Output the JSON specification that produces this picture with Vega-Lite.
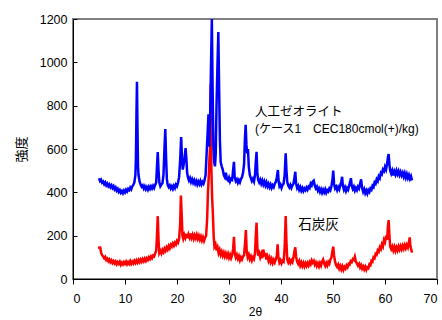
{
  "$schema": "https://vega.github.io/schema/vega-lite/v6.json",
  "autosize": {"type": "none"},
  "width": 364,
  "height": 260,
  "padding": {"left": 73, "top": 19, "right": 5, "bottom": 41},
  "background": "white",
  "config": {
    "view": {"stroke": "#808080", "strokeWidth": 2},
    "axis": {"grid": false, "labelFont": "Liberation Sans", "labelFontSize": 12.5, "labelColor": "#000", "domainColor": "#000", "tickColor": "#000", "titleColor": "#000", "titleFontWeight": "normal"}
  },
  "datasets": {
    "coal": [
      {"theta":5.0,"count":150},{"theta":5.1,"count":140},{"theta":5.2,"count":150},{"theta":5.4,"count":122},{"theta":5.6,"count":110},{"theta":5.8,"count":104},{"theta":6.0,"count":96},{"theta":6.2,"count":102},{"theta":6.4,"count":88},{"theta":6.6,"count":94},{"theta":6.8,"count":82},{"theta":7.0,"count":90},{"theta":7.2,"count":78},{"theta":7.4,"count":86},{"theta":7.6,"count":74},{"theta":7.8,"count":82},{"theta":8.0,"count":72},{"theta":8.2,"count":80},{"theta":8.4,"count":68},{"theta":8.6,"count":78},{"theta":8.8,"count":70},{"theta":9.0,"count":80},{"theta":9.2,"count":66},{"theta":9.4,"count":76},{"theta":9.6,"count":68},{"theta":9.8,"count":78},{"theta":10.0,"count":70},{"theta":10.2,"count":80},{"theta":10.4,"count":68},{"theta":10.6,"count":78},{"theta":10.8,"count":70},{"theta":11.0,"count":82},{"theta":11.2,"count":70},{"theta":11.4,"count":80},{"theta":11.6,"count":72},{"theta":11.8,"count":84},{"theta":12.0,"count":74},{"theta":12.2,"count":86},{"theta":12.4,"count":76},{"theta":12.6,"count":88},{"theta":12.8,"count":78},{"theta":13.0,"count":90},{"theta":13.2,"count":80},{"theta":13.4,"count":92},{"theta":13.6,"count":82},{"theta":13.8,"count":94},{"theta":14.0,"count":84},{"theta":14.2,"count":96},{"theta":14.4,"count":88},{"theta":14.6,"count":100},{"theta":14.8,"count":92},{"theta":15.0,"count":104},{"theta":15.2,"count":96},{"theta":15.4,"count":108},{"theta":15.6,"count":104},{"theta":15.8,"count":118},{"theta":16.0,"count":130},{"theta":16.15,"count":200},{"theta":16.3,"count":290},{"theta":16.45,"count":180},{"theta":16.6,"count":120},{"theta":16.8,"count":130},{"theta":17.0,"count":118},{"theta":17.2,"count":134},{"theta":17.4,"count":124},{"theta":17.6,"count":140},{"theta":17.8,"count":130},{"theta":18.0,"count":146},{"theta":18.2,"count":136},{"theta":18.4,"count":152},{"theta":18.6,"count":142},{"theta":18.8,"count":158},{"theta":19.0,"count":150},{"theta":19.2,"count":164},{"theta":19.4,"count":154},{"theta":19.6,"count":168},{"theta":19.8,"count":160},{"theta":20.0,"count":176},{"theta":20.2,"count":168},{"theta":20.4,"count":184},{"theta":20.6,"count":250},{"theta":20.75,"count":385},{"theta":20.9,"count":300},{"theta":21.05,"count":200},{"theta":21.2,"count":186},{"theta":21.4,"count":204},{"theta":21.6,"count":190},{"theta":21.8,"count":208},{"theta":22.0,"count":188},{"theta":22.2,"count":206},{"theta":22.4,"count":192},{"theta":22.6,"count":210},{"theta":22.8,"count":190},{"theta":23.0,"count":204},{"theta":23.2,"count":186},{"theta":23.4,"count":202},{"theta":23.6,"count":188},{"theta":23.8,"count":204},{"theta":24.0,"count":186},{"theta":24.2,"count":200},{"theta":24.4,"count":182},{"theta":24.6,"count":196},{"theta":24.8,"count":178},{"theta":25.0,"count":192},{"theta":25.2,"count":176},{"theta":25.4,"count":190},{"theta":25.6,"count":200},{"theta":25.8,"count":280},{"theta":25.95,"count":400},{"theta":26.1,"count":470},{"theta":26.25,"count":560},{"theta":26.4,"count":620},{"theta":26.5,"count":900},{"theta":26.6,"count":520},{"theta":26.75,"count":380},{"theta":26.9,"count":300},{"theta":27.05,"count":200},{"theta":27.2,"count":150},{"theta":27.4,"count":160},{"theta":27.6,"count":132},{"theta":27.8,"count":146},{"theta":28.0,"count":120},{"theta":28.2,"count":134},{"theta":28.4,"count":112},{"theta":28.6,"count":126},{"theta":28.8,"count":108},{"theta":29.0,"count":122},{"theta":29.2,"count":104},{"theta":29.4,"count":118},{"theta":29.6,"count":102},{"theta":29.8,"count":116},{"theta":30.0,"count":98},{"theta":30.2,"count":112},{"theta":30.4,"count":96},{"theta":30.6,"count":110},{"theta":30.8,"count":140},{"theta":30.95,"count":195},{"theta":31.1,"count":120},{"theta":31.3,"count":100},{"theta":31.5,"count":112},{"theta":31.7,"count":94},{"theta":31.9,"count":106},{"theta":32.1,"count":86},{"theta":32.3,"count":100},{"theta":32.5,"count":90},{"theta":32.7,"count":104},{"theta":32.9,"count":110},{"theta":33.1,"count":170},{"theta":33.25,"count":226},{"theta":33.4,"count":130},{"theta":33.6,"count":100},{"theta":33.8,"count":112},{"theta":34.0,"count":92},{"theta":34.2,"count":104},{"theta":34.4,"count":86},{"theta":34.6,"count":100},{"theta":34.8,"count":92},{"theta":35.0,"count":120},{"theta":35.15,"count":200},{"theta":35.3,"count":260},{"theta":35.45,"count":150},{"theta":35.6,"count":108},{"theta":35.8,"count":120},{"theta":36.0,"count":100},{"theta":36.2,"count":116},{"theta":36.4,"count":96},{"theta":36.6,"count":136},{"theta":36.8,"count":104},{"theta":37.0,"count":120},{"theta":37.2,"count":90},{"theta":37.4,"count":104},{"theta":37.6,"count":84},{"theta":37.8,"count":98},{"theta":38.0,"count":78},{"theta":38.2,"count":92},{"theta":38.4,"count":74},{"theta":38.6,"count":88},{"theta":38.8,"count":76},{"theta":39.0,"count":90},{"theta":39.2,"count":110},{"theta":39.35,"count":160},{"theta":39.5,"count":100},{"theta":39.7,"count":76},{"theta":39.9,"count":86},{"theta":40.1,"count":72},{"theta":40.3,"count":84},{"theta":40.5,"count":80},{"theta":40.7,"count":140},{"theta":40.9,"count":291},{"theta":41.05,"count":170},{"theta":41.2,"count":90},{"theta":41.4,"count":76},{"theta":41.6,"count":88},{"theta":41.8,"count":74},{"theta":42.0,"count":86},{"theta":42.2,"count":78},{"theta":42.4,"count":100},{"theta":42.6,"count":130},{"theta":42.75,"count":146},{"theta":42.9,"count":104},{"theta":43.1,"count":80},{"theta":43.3,"count":70},{"theta":43.5,"count":82},{"theta":43.7,"count":62},{"theta":43.9,"count":76},{"theta":44.1,"count":60},{"theta":44.3,"count":74},{"theta":44.5,"count":58},{"theta":44.7,"count":72},{"theta":44.9,"count":60},{"theta":45.1,"count":74},{"theta":45.3,"count":62},{"theta":45.5,"count":78},{"theta":45.7,"count":68},{"theta":45.9,"count":86},{"theta":46.1,"count":76},{"theta":46.3,"count":84},{"theta":46.5,"count":66},{"theta":46.7,"count":76},{"theta":46.9,"count":60},{"theta":47.1,"count":72},{"theta":47.3,"count":58},{"theta":47.5,"count":74},{"theta":47.7,"count":62},{"theta":47.9,"count":80},{"theta":48.1,"count":90},{"theta":48.3,"count":72},{"theta":48.5,"count":60},{"theta":48.7,"count":74},{"theta":48.9,"count":62},{"theta":49.1,"count":78},{"theta":49.3,"count":70},{"theta":49.5,"count":90},{"theta":49.7,"count":100},{"theta":49.9,"count":130},{"theta":50.05,"count":149},{"theta":50.2,"count":110},{"theta":50.4,"count":80},{"theta":50.6,"count":64},{"theta":50.8,"count":56},{"theta":51.0,"count":66},{"theta":51.2,"count":48},{"theta":51.4,"count":60},{"theta":51.6,"count":44},{"theta":51.8,"count":58},{"theta":52.0,"count":42},{"theta":52.2,"count":56},{"theta":52.4,"count":48},{"theta":52.6,"count":62},{"theta":52.8,"count":54},{"theta":53.0,"count":70},{"theta":53.2,"count":66},{"theta":53.4,"count":82},{"theta":53.6,"count":78},{"theta":53.8,"count":92},{"theta":54.0,"count":88},{"theta":54.2,"count":103},{"theta":54.4,"count":80},{"theta":54.6,"count":72},{"theta":54.8,"count":62},{"theta":55.0,"count":70},{"theta":55.2,"count":54},{"theta":55.4,"count":64},{"theta":55.6,"count":48},{"theta":55.8,"count":58},{"theta":56.0,"count":44},{"theta":56.2,"count":56},{"theta":56.4,"count":42},{"theta":56.6,"count":54},{"theta":56.8,"count":50},{"theta":57.0,"count":68},{"theta":57.2,"count":64},{"theta":57.4,"count":84},{"theta":57.6,"count":80},{"theta":57.8,"count":100},{"theta":58.0,"count":96},{"theta":58.2,"count":116},{"theta":58.4,"count":112},{"theta":58.6,"count":132},{"theta":58.8,"count":126},{"theta":59.0,"count":146},{"theta":59.2,"count":138},{"theta":59.4,"count":160},{"theta":59.6,"count":150},{"theta":59.8,"count":180},{"theta":60.0,"count":170},{"theta":60.2,"count":200},{"theta":60.4,"count":180},{"theta":60.55,"count":240},{"theta":60.7,"count":272},{"theta":60.85,"count":200},{"theta":61.0,"count":150},{"theta":61.2,"count":138},{"theta":61.4,"count":150},{"theta":61.6,"count":132},{"theta":61.8,"count":148},{"theta":62.0,"count":130},{"theta":62.2,"count":146},{"theta":62.4,"count":132},{"theta":62.6,"count":150},{"theta":62.8,"count":136},{"theta":63.0,"count":152},{"theta":63.2,"count":138},{"theta":63.4,"count":154},{"theta":63.6,"count":140},{"theta":63.8,"count":156},{"theta":64.0,"count":142},{"theta":64.2,"count":158},{"theta":64.4,"count":146},{"theta":64.6,"count":170},{"theta":64.75,"count":192},{"theta":64.9,"count":150},{"theta":65.0,"count":140},{"theta":65.2,"count":122}
    ],
    "zeolite": [
      {"theta":5.0,"count":465},{"theta":5.2,"count":452},{"theta":5.4,"count":458},{"theta":5.6,"count":445},{"theta":5.8,"count":450},{"theta":6.0,"count":438},{"theta":6.2,"count":446},{"theta":6.4,"count":432},{"theta":6.6,"count":440},{"theta":6.8,"count":428},{"theta":7.0,"count":436},{"theta":7.2,"count":424},{"theta":7.4,"count":432},{"theta":7.6,"count":420},{"theta":7.8,"count":428},{"theta":8.0,"count":414},{"theta":8.2,"count":422},{"theta":8.4,"count":408},{"theta":8.6,"count":416},{"theta":8.8,"count":402},{"theta":9.0,"count":410},{"theta":9.2,"count":398},{"theta":9.4,"count":406},{"theta":9.6,"count":396},{"theta":9.8,"count":408},{"theta":10.0,"count":400},{"theta":10.2,"count":412},{"theta":10.4,"count":404},{"theta":10.6,"count":416},{"theta":10.8,"count":410},{"theta":11.0,"count":422},{"theta":11.2,"count":414},{"theta":11.4,"count":428},{"theta":11.6,"count":434},{"theta":11.8,"count":446},{"theta":12.0,"count":480},{"theta":12.1,"count":560},{"theta":12.2,"count":750},{"theta":12.3,"count":910},{"theta":12.4,"count":700},{"theta":12.5,"count":520},{"theta":12.6,"count":480},{"theta":12.8,"count":450},{"theta":13.0,"count":436},{"theta":13.2,"count":426},{"theta":13.4,"count":432},{"theta":13.6,"count":418},{"theta":13.8,"count":428},{"theta":14.0,"count":414},{"theta":14.2,"count":424},{"theta":14.4,"count":412},{"theta":14.6,"count":426},{"theta":14.8,"count":416},{"theta":15.0,"count":428},{"theta":15.2,"count":418},{"theta":15.4,"count":430},{"theta":15.6,"count":420},{"theta":15.8,"count":434},{"theta":16.0,"count":446},{"theta":16.15,"count":520},{"theta":16.3,"count":586},{"theta":16.45,"count":500},{"theta":16.6,"count":446},{"theta":16.8,"count":428},{"theta":17.0,"count":436},{"theta":17.2,"count":442},{"theta":17.4,"count":480},{"theta":17.6,"count":610},{"theta":17.75,"count":692},{"theta":17.9,"count":560},{"theta":18.05,"count":462},{"theta":18.2,"count":434},{"theta":18.4,"count":424},{"theta":18.6,"count":432},{"theta":18.8,"count":418},{"theta":19.0,"count":428},{"theta":19.2,"count":416},{"theta":19.4,"count":430},{"theta":19.6,"count":420},{"theta":19.8,"count":436},{"theta":20.0,"count":428},{"theta":20.2,"count":444},{"theta":20.4,"count":470},{"theta":20.6,"count":545},{"theta":20.8,"count":655},{"theta":20.95,"count":560},{"theta":21.1,"count":505},{"theta":21.3,"count":530},{"theta":21.5,"count":570},{"theta":21.65,"count":604},{"theta":21.8,"count":555},{"theta":21.95,"count":490},{"theta":22.1,"count":470},{"theta":22.3,"count":455},{"theta":22.5,"count":466},{"theta":22.7,"count":448},{"theta":22.9,"count":460},{"theta":23.1,"count":444},{"theta":23.3,"count":456},{"theta":23.5,"count":440},{"theta":23.7,"count":452},{"theta":23.9,"count":436},{"theta":24.1,"count":450},{"theta":24.3,"count":438},{"theta":24.5,"count":452},{"theta":24.7,"count":436},{"theta":24.9,"count":448},{"theta":25.1,"count":440},{"theta":25.3,"count":456},{"theta":25.5,"count":480},{"theta":25.7,"count":580},{"theta":25.9,"count":680},{"theta":26.05,"count":760},{"theta":26.2,"count":610},{"theta":26.35,"count":720},{"theta":26.55,"count":1000},{"theta":26.7,"count":1200},{"theta":26.85,"count":880},{"theta":27.0,"count":610},{"theta":27.15,"count":540},{"theta":27.3,"count":520},{"theta":27.45,"count":580},{"theta":27.6,"count":800},{"theta":27.8,"count":1005},{"theta":27.95,"count":1140},{"theta":28.1,"count":880},{"theta":28.25,"count":640},{"theta":28.4,"count":540},{"theta":28.6,"count":520},{"theta":28.8,"count":505},{"theta":29.0,"count":480},{"theta":29.2,"count":470},{"theta":29.4,"count":490},{"theta":29.6,"count":462},{"theta":29.8,"count":455},{"theta":30.0,"count":468},{"theta":30.2,"count":450},{"theta":30.4,"count":462},{"theta":30.6,"count":458},{"theta":30.8,"count":505},{"theta":30.95,"count":541},{"theta":31.1,"count":470},{"theta":31.3,"count":452},{"theta":31.5,"count":460},{"theta":31.7,"count":444},{"theta":31.9,"count":456},{"theta":32.1,"count":446},{"theta":32.3,"count":462},{"theta":32.5,"count":470},{"theta":32.7,"count":490},{"theta":32.9,"count":530},{"theta":33.05,"count":640},{"theta":33.2,"count":712},{"theta":33.35,"count":620},{"theta":33.5,"count":580},{"theta":33.65,"count":600},{"theta":33.8,"count":520},{"theta":34.0,"count":480},{"theta":34.2,"count":466},{"theta":34.4,"count":452},{"theta":34.6,"count":462},{"theta":34.8,"count":450},{"theta":35.0,"count":480},{"theta":35.15,"count":540},{"theta":35.3,"count":587},{"theta":35.45,"count":490},{"theta":35.6,"count":458},{"theta":35.8,"count":446},{"theta":36.0,"count":458},{"theta":36.2,"count":440},{"theta":36.4,"count":454},{"theta":36.6,"count":436},{"theta":36.8,"count":450},{"theta":37.0,"count":432},{"theta":37.2,"count":446},{"theta":37.4,"count":428},{"theta":37.6,"count":440},{"theta":37.8,"count":424},{"theta":38.0,"count":436},{"theta":38.2,"count":420},{"theta":38.4,"count":432},{"theta":38.6,"count":424},{"theta":38.8,"count":440},{"theta":39.0,"count":448},{"theta":39.2,"count":470},{"theta":39.4,"count":503},{"theta":39.55,"count":450},{"theta":39.7,"count":428},{"theta":39.9,"count":436},{"theta":40.1,"count":420},{"theta":40.3,"count":434},{"theta":40.5,"count":440},{"theta":40.7,"count":480},{"theta":40.9,"count":580},{"theta":41.05,"count":500},{"theta":41.2,"count":448},{"theta":41.4,"count":430},{"theta":41.6,"count":422},{"theta":41.8,"count":434},{"theta":42.0,"count":420},{"theta":42.2,"count":432},{"theta":42.4,"count":440},{"theta":42.6,"count":470},{"theta":42.75,"count":495},{"theta":42.9,"count":440},{"theta":43.1,"count":420},{"theta":43.3,"count":430},{"theta":43.5,"count":412},{"theta":43.7,"count":424},{"theta":43.9,"count":408},{"theta":44.1,"count":420},{"theta":44.3,"count":406},{"theta":44.5,"count":418},{"theta":44.7,"count":410},{"theta":44.9,"count":422},{"theta":45.1,"count":412},{"theta":45.3,"count":426},{"theta":45.5,"count":420},{"theta":45.7,"count":440},{"theta":45.9,"count":432},{"theta":46.1,"count":450},{"theta":46.3,"count":454},{"theta":46.5,"count":430},{"theta":46.7,"count":418},{"theta":46.9,"count":426},{"theta":47.1,"count":408},{"theta":47.3,"count":418},{"theta":47.5,"count":402},{"theta":47.7,"count":414},{"theta":47.9,"count":398},{"theta":48.1,"count":412},{"theta":48.3,"count":400},{"theta":48.5,"count":414},{"theta":48.7,"count":398},{"theta":48.9,"count":410},{"theta":49.1,"count":404},{"theta":49.3,"count":418},{"theta":49.5,"count":410},{"theta":49.7,"count":428},{"theta":49.9,"count":460},{"theta":50.05,"count":500},{"theta":50.2,"count":440},{"theta":50.4,"count":418},{"theta":50.6,"count":426},{"theta":50.8,"count":410},{"theta":51.0,"count":424},{"theta":51.2,"count":414},{"theta":51.4,"count":432},{"theta":51.6,"count":450},{"theta":51.75,"count":472},{"theta":51.9,"count":430},{"theta":52.1,"count":412},{"theta":52.3,"count":424},{"theta":52.5,"count":406},{"theta":52.7,"count":420},{"theta":52.9,"count":412},{"theta":53.1,"count":430},{"theta":53.3,"count":450},{"theta":53.45,"count":465},{"theta":53.6,"count":430},{"theta":53.8,"count":416},{"theta":54.0,"count":426},{"theta":54.2,"count":408},{"theta":54.4,"count":420},{"theta":54.6,"count":410},{"theta":54.8,"count":426},{"theta":55.0,"count":418},{"theta":55.2,"count":440},{"theta":55.4,"count":460},{"theta":55.6,"count":420},{"theta":55.8,"count":402},{"theta":56.0,"count":414},{"theta":56.2,"count":396},{"theta":56.4,"count":408},{"theta":56.6,"count":394},{"theta":56.8,"count":410},{"theta":57.0,"count":402},{"theta":57.2,"count":418},{"theta":57.4,"count":412},{"theta":57.6,"count":430},{"theta":57.8,"count":424},{"theta":58.0,"count":446},{"theta":58.2,"count":440},{"theta":58.4,"count":460},{"theta":58.6,"count":452},{"theta":58.8,"count":474},{"theta":59.0,"count":466},{"theta":59.2,"count":490},{"theta":59.4,"count":484},{"theta":59.6,"count":505},{"theta":59.8,"count":498},{"theta":60.0,"count":518},{"theta":60.2,"count":505},{"theta":60.4,"count":530},{"theta":60.55,"count":560},{"theta":60.7,"count":577},{"theta":60.85,"count":530},{"theta":61.0,"count":500},{"theta":61.2,"count":486},{"theta":61.4,"count":500},{"theta":61.6,"count":478},{"theta":61.8,"count":496},{"theta":62.0,"count":482},{"theta":62.2,"count":500},{"theta":62.4,"count":484},{"theta":62.6,"count":498},{"theta":62.8,"count":480},{"theta":63.0,"count":494},{"theta":63.2,"count":478},{"theta":63.4,"count":490},{"theta":63.6,"count":472},{"theta":63.8,"count":488},{"theta":64.0,"count":468},{"theta":64.2,"count":484},{"theta":64.4,"count":466},{"theta":64.6,"count":480},{"theta":64.8,"count":462},{"theta":65.0,"count":474},{"theta":65.2,"count":455}
    ]
  },
  "encoding": {
    "x": {"field": "theta", "type": "quantitative", "scale": {"domain": [0, 70], "nice": false},
      "axis": {"values": [0,10,20,30,40,50,60,70], "format": "d", "title": "2θ", "tickSize": 5, "labelPadding": 8, "titleFont": "Liberation Sans", "titleFontSize": 12, "titleY": 27, "titleBaseline": "top"}},
    "y": {"field": "count", "type": "quantitative", "scale": {"domain": [0, 1200], "nice": false},
      "axis": {"values": [0,200,400,600,800,1000,1200], "format": "d", "title": "強度", "tickSize": -4, "labelPadding": 10, "titleFont": "Noto Sans CJK JP", "titleFontSize": 13, "titleX": -52, "titleY": 130, "titleBaseline": "middle"}}
  },
  "layer": [
    {"data": {"name": "coal"}, "mark": {"type": "line", "color": "#FF0000", "strokeWidth": 2.5}},
    {"data": {"name": "zeolite"}, "mark": {"type": "line", "color": "#0000FF", "strokeWidth": 2.5}},
    {"data": {"values": [{"theta": 35.0, "count": 771, "label": "人工ゼオライト"}]},
      "mark": {"type": "text", "align": "left", "baseline": "middle", "font": "Noto Sans CJK JP", "fontSize": 12.5, "color": "#000"},
      "encoding": {"text": {"field": "label"}}},
    {"data": {"values": [{"theta": 35.0, "count": 692, "label": "(ケース1　CEC180cmol(+)/kg)"}]},
      "mark": {"type": "text", "align": "left", "baseline": "middle", "font": "Liberation Sans, Noto Sans CJK JP", "fontSize": 12, "color": "#000"},
      "encoding": {"text": {"field": "label"}}},
    {"data": {"values": [{"theta": 43.3, "count": 249, "label": "石炭灰"}]},
      "mark": {"type": "text", "align": "left", "baseline": "middle", "font": "Noto Sans CJK JP", "fontSize": 13.5, "color": "#000"},
      "encoding": {"text": {"field": "label"}}}
  ]
}
